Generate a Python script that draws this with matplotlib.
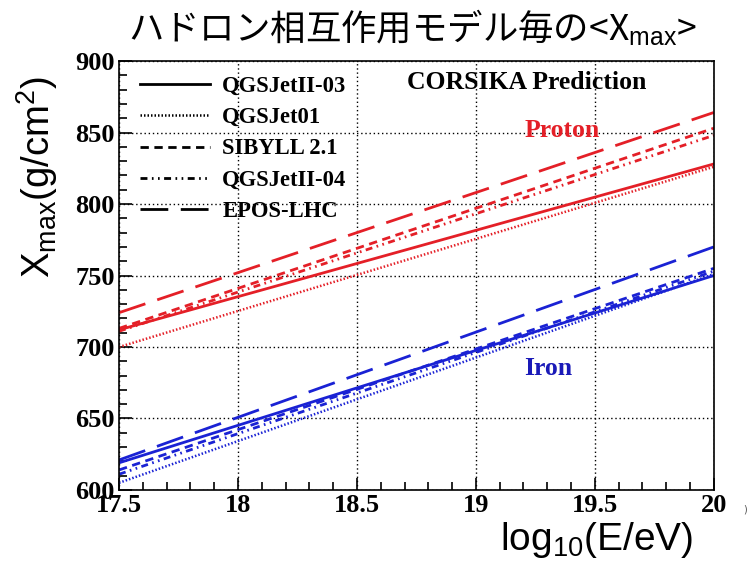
import matplotlib.pyplot as plt
from matplotlib.lines import Line2D
from matplotlib.ticker import MultipleLocator

plt.rcParams['mathtext.fontset'] = 'custom'
plt.rcParams['mathtext.rm'] = 'Liberation Sans'
plt.rcParams['mathtext.it'] = 'Liberation Sans:italic'

# data (straight lines in log10 E)
log_e = [17.5, 20.0]
models = ['QGSJetII-03', 'QGSJet01', 'SIBYLL 2.1', 'QGSJetII-04', 'EPOS-LHC']
proton_xmax = [
    [712, 828],   # QGSJetII-03
    [700, 826],   # QGSJet01
    [713, 853],   # SIBYLL 2.1
    [711, 848],   # QGSJetII-04
    [724, 864],   # EPOS-LHC
]
iron_xmax = [
    [619, 750],
    [605, 751],
    [614, 755],
    [611, 753],
    [621, 770],
]

# ROOT-like line styles
styles = ['-', (0, (0.6, 0.8)), (0, (3, 2)), (0, (2.5, 1.6, 0.6, 1.6, 0.6, 1.6)), (0, (10, 4.5))]
widths = [2.0, 1.8, 2.0, 2.0, 2.0]
red = '#e41f27'
blue = '#1a22d4'

fig = plt.figure(figsize=(7.51, 5.66), dpi=100)
ax = fig.add_axes([0.1585, 0.1343, 0.792, 0.7579])

for i, name in enumerate(models):
    ax.plot(log_e, proton_xmax[i], color=red, ls=styles[i], lw=widths[i])
    ax.plot(log_e, iron_xmax[i], color=blue, ls=styles[i], lw=widths[i])

ax.set_xlim(17.5, 20)
ax.set_ylim(600, 900)
ax.xaxis.set_major_locator(MultipleLocator(0.5))
ax.xaxis.set_minor_locator(MultipleLocator(0.1))
ax.yaxis.set_major_locator(MultipleLocator(50))
ax.yaxis.set_minor_locator(MultipleLocator(10))
ax.set_xticks([17.5, 18, 18.5, 19, 19.5, 20])
ax.set_xticklabels(['17.5', '18', '18.5', '19', '19.5', '20'])
ax.grid(True, which='major', color='black', ls=(0, (1, 2)), lw=1.0)

ax.tick_params(which='both', direction='in', top=False, right=False, width=1.2)
ax.tick_params(which='major', length=9)
ax.tick_params(which='minor', length=5.5)
ax.tick_params(axis='y', pad=3)
ax.tick_params(axis='x', pad=3)
for lab in ax.get_xticklabels() + ax.get_yticklabels():
    lab.set_fontfamily('Liberation Serif')
    lab.set_fontweight('bold')
    lab.set_fontsize(19)
for sp in ax.spines.values():
    sp.set_linewidth(1.2)

handles = [Line2D([], [], color='black', ls=styles[i], lw=widths[i]) for i in range(len(models))]
leg = ax.legend(handles, models, loc='upper left', bbox_to_anchor=(0.02, 0.986), borderaxespad=0,
                frameon=False, handlelength=3.1, handletextpad=0.53, labelspacing=0.45,
                prop={'family': 'Liberation Serif', 'weight': 'bold', 'size': 16.3})

ax.text(0.686, 0.95, 'CORSIKA Prediction', transform=ax.transAxes, ha='center', va='center',
        family='Liberation Serif', weight='bold', fontsize=18.5)
ax.text(0.745, 0.839, 'Proton', transform=ax.transAxes, ha='center', va='center',
        family='Liberation Serif', weight='bold', fontsize=18.5, color=red)
ax.text(0.722, 0.284, 'Iron', transform=ax.transAxes, ha='center', va='center',
        family='Liberation Serif', weight='bold', fontsize=18.5, color='#1a1ab8')

fig.text(0.549, 0.95, 'ハドロン相互作用モデル毎の<X$_{\\rm max}$>', ha='center', va='center',
         family='Noto Sans CJK JP', fontsize=25.5)
fig.text(0.05, 0.687, 'X$_{\\rm max}$(g/cm$^{2}$)', rotation=90, ha='center', va='center',
         family='Liberation Sans', fontsize=27.5)
fig.text(0.795, 0.046, 'log$_{10}$(E/eV)', ha='center', va='center',
         family='Liberation Sans', fontsize=28)
fig.text(0.992, 0.099, ')', ha='center', va='center', fontsize=7, color='#555555')

fig.savefig('out.png', dpi=100)
